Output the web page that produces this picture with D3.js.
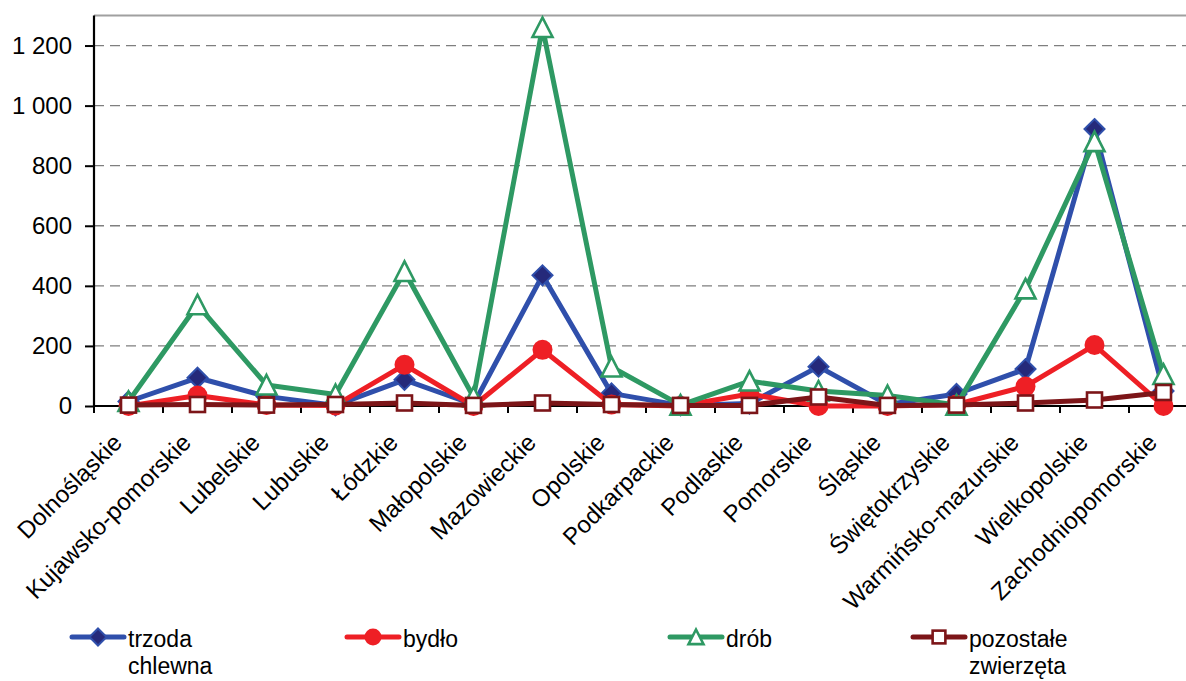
<!DOCTYPE html>
<html>
<head>
<meta charset="utf-8">
<script src="https://cdn.jsdelivr.net/npm/d3@7"></script>
<style>
  body { margin: 0; background: #fff; }
  svg { display: block; font-family: "Liberation Sans", Arial, sans-serif; }
</style>
</head>
<body>
<svg id="chart" width="1186" height="681"></svg>
<script>
// Województwa
const categories = [
  "Dolnośląskie", "Kujawsko-pomorskie", "Lubelskie", "Lubuskie", "Łódzkie",
  "Małopolskie", "Mazowieckie", "Opolskie", "Podkarpackie", "Podlaskie",
  "Pomorskie", "Śląskie", "Świętokrzyskie", "Warmińsko-mazurskie",
  "Wielkopolskie", "Zachodniopomorskie"
];

// Wartości serii
const trzoda = [15, 94, 32, 2, 87, 5, 435, 42, 2, 8, 131, 5, 40, 123, 922, 50];
const bydlo = [0, 35, 3, 2, 137, 0, 187, 5, 0, 40, 0, 0, 5, 65, 203, 0];
const drob = [15, 337, 70, 38, 448, 30, 1260, 130, 3, 83, 50, 35, 3, 390, 880, 105];
const pozostale = [3, 5, 3, 5, 10, 2, 10, 5, 2, 2, 30, 2, 3, 10, 20, 45];

const yTicks = [0, 200, 400, 600, 800, 1000, 1200];
const yMax = 1300;

const seriesNames = [["trzoda", "chlewna"], ["bydło"], ["drób"], ["pozostałe", "zwierzęta"]];

const series = [
  { name: seriesNames[0], values: trzoda, color: "#2f4fab", marker: "diamond", fill: "#25297a" },
  { name: seriesNames[1], values: bydlo, color: "#ee1f25", marker: "circle", fill: "#ee1f25" },
  { name: seriesNames[2], values: drob, color: "#2e9963", marker: "triangle", fill: "#ffffff" },
  { name: seriesNames[3], values: pozostale, color: "#7c1518", marker: "square", fill: "#ffffff" }
];

const svg = d3.select("#chart");
const plotLeft = 94, plotRight = 1198, plotTop = 15.5, plotBottom = 406;

const x = d3.scaleBand().domain(categories).range([plotLeft, plotRight]).padding(0);
const cx = c => x(c) + x.bandwidth() / 2;
const y = d3.scaleLinear().domain([0, yMax]).range([plotBottom, plotTop]);

// Linie siatki
svg.append("g")
  .selectAll("line")
  .data(yTicks.filter(t => t > 0))
  .join("line")
  .attr("x1", plotLeft).attr("x2", 1186)
  .attr("y1", d => y(d)).attr("y2", d => y(d))
  .attr("stroke", "#7f7f7f").attr("stroke-width", 1.3)
  .attr("stroke-dasharray", "10,6");

// Górna ramka
svg.append("line")
  .attr("x1", plotLeft).attr("x2", 1186)
  .attr("y1", y(yMax)).attr("y2", y(yMax))
  .attr("stroke", "#a0a0a0").attr("stroke-width", 2);

// Oś Y
const yAxis = d3.axisLeft(y)
  .tickValues(yTicks)
  .tickSize(9)
  .tickPadding(13)
  .tickFormat(d => d3.format(",")(d).replace(/,/g, " "));
const gy = svg.append("g").attr("transform", `translate(${plotLeft},0)`).call(yAxis);
gy.select(".domain").remove();
gy.selectAll(".tick line").attr("stroke", "#000").attr("stroke-width", 2);
gy.selectAll(".tick text").attr("font-size", 24).attr("fill", "#000")
  .attr("font-family", "Liberation Sans, Arial, sans-serif");
svg.append("line")
  .attr("x1", plotLeft).attr("x2", plotLeft)
  .attr("y1", y(yMax)).attr("y2", plotBottom)
  .attr("stroke", "#000").attr("stroke-width", 2.2);

// Oś X
svg.append("line")
  .attr("x1", plotLeft).attr("x2", plotRight)
  .attr("y1", plotBottom).attr("y2", plotBottom)
  .attr("stroke", "#000").attr("stroke-width", 2.2);
svg.append("g")
  .selectAll("line")
  .data(categories)
  .join("line")
  .attr("x1", d => x(d)).attr("x2", d => x(d))
  .attr("y1", plotBottom).attr("y2", plotBottom + 7)
  .attr("stroke", "#000").attr("stroke-width", 2);

svg.append("g")
  .selectAll("text")
  .data(categories)
  .join("text")
  .attr("transform", d => `translate(${cx(d) - 5},${plotBottom + 38}) rotate(-45)`)
  .attr("text-anchor", "end")
  .attr("font-size", 24)
  .attr("fill", "#000")
  .text(d => d);

// Znaczniki
function drawMarker(g, type, color, fill, scale) {
  const s = scale || 1;
  if (type === "diamond") {
    const r = 10 * s;
    g.append("path")
      .attr("d", `M0,${-r}L${r},0L0,${r}L${-r},0Z`)
      .attr("fill", fill).attr("stroke", color).attr("stroke-width", 2);
  } else if (type === "circle") {
    g.append("circle").attr("r", 10 * s).attr("fill", fill);
  } else if (type === "triangle") {
    const w = 10 * s, h = 10 * s;
    g.append("path")
      .attr("d", `M0,${-h}L${w},${h * 0.95}L${-w},${h * 0.95}Z`)
      .attr("fill", fill).attr("stroke", color).attr("stroke-width", 2.6)
      .attr("stroke-linejoin", "miter");
  } else if (type === "square") {
    const r = 7.5 * s;
    g.append("rect")
      .attr("x", -r).attr("y", -r).attr("width", 2 * r).attr("height", 2 * r)
      .attr("fill", fill).attr("stroke", color).attr("stroke-width", 2.6);
  }
}

const line = d3.line().x((d, i) => cx(categories[i])).y(d => y(d));

series.forEach(s => {
  const g = svg.append("g");
  g.append("path")
    .datum(s.values)
    .attr("d", line)
    .attr("fill", "none")
    .attr("stroke", s.color)
    .attr("stroke-width", 5)
    .attr("stroke-linejoin", "round");
  s.values.forEach((v, i) => {
    const m = g.append("g").attr("transform", `translate(${cx(categories[i])},${y(v)})`);
    drawMarker(m, s.marker, s.color, s.fill);
  });
});

// Legenda
const legendX = [72, 347, 670, 913];
series.forEach((s, i) => {
  const lg = svg.append("g").attr("transform", `translate(${legendX[i]},637)`);
  lg.append("line").attr("x1", 0).attr("x2", 52).attr("y1", 0).attr("y2", 0)
    .attr("stroke", s.color).attr("stroke-width", 5).attr("stroke-linecap", "round");
  const m = lg.append("g").attr("transform", "translate(26,0)");
  drawMarker(m, s.marker, s.color, s.fill, s.marker === "triangle" ? 0.75 : 0.85);
  const t = lg.append("text").attr("x", 56).attr("y", 10)
    .attr("font-size", 23).attr("fill", "#000");
  s.name.forEach((n, k) => {
    t.append("tspan").attr("x", 56).attr("dy", k === 0 ? 0 : 27).text(n);
  });
});
</script>
</body>
</html>
